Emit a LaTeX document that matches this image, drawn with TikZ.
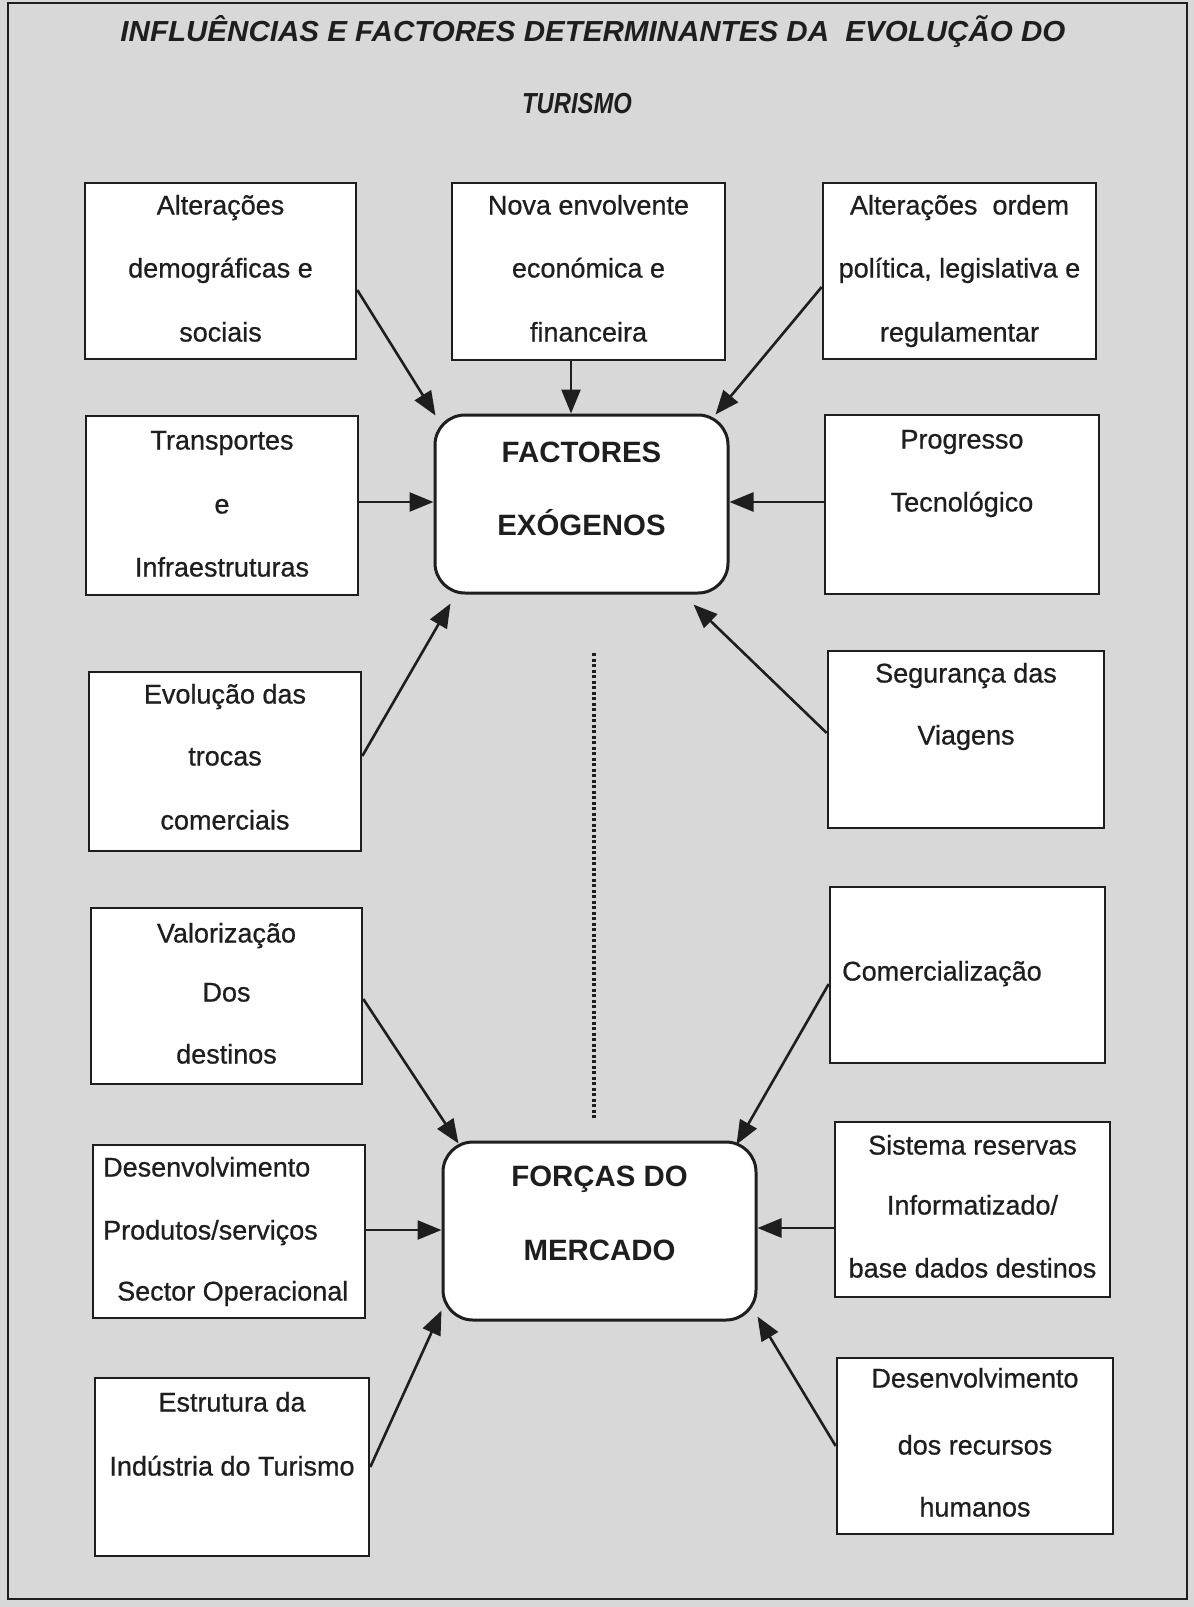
\documentclass[tikz,border=0pt]{standalone}
\usepackage{graphicx}
\usepackage{fontspec}
\setmainfont{Liberation Sans}
\newfontfamily\bodyfont{Liberation Sans}[RawFeature={embolden=0.7}]
\usetikzlibrary{arrows.meta}
\definecolor{ink}{RGB}{30,30,30}
\definecolor{paper}{RGB}{216,216,216}

\begin{document}
\begin{tikzpicture}[x=1pt,y=-1pt,
  panel/.style={draw=ink, line width=2.6pt, fill=white, inner sep=0pt},
  hub/.style={panel, rounded corners=30pt, line width=3pt},
  txt/.style={text=ink, inner sep=0pt, font=\bodyfont\fontsize{27}{30}\selectfont, text height=19pt, text depth=0pt},
  hubtxt/.style={text=ink, inner sep=0pt, font=\fontsize{29.4}{32}\selectfont\bfseries, text height=21pt, text depth=0pt},
  headtxt/.style={text=ink, inner sep=0pt, anchor=base, font=\fontsize{29}{32}\selectfont\bfseries\itshape},
  link/.style={draw=ink, line width=2.6pt, -{Triangle[length=24pt,width=19pt]}},
]
\useasboundingbox (0,0) rectangle (1194,1607);
\fill[paper] (0,0) rectangle (1194,1607);
\draw[ink, line width=2.8pt] (8,3) rectangle (1187,1599);

% heading
\node[headtxt] (title) at (593,41) {\resizebox{945pt}{\height}{INFLUÊNCIAS E FACTORES DETERMINANTES DA\ \ EVOLUÇÃO DO}};
\node[headtxt] (title2) at (577,113) {\scalebox{0.82}[1]{TURISMO}};

% central hubs
\node[hub, minimum width=293pt, minimum height=178pt] (fe) at (581.5,504) {};
\node[hubtxt] (fe1) at (581.5,452) {FACTORES};
\node[hubtxt] (fe2) at (581.5,525) {EXÓGENOS};

\node[hub, minimum width=313pt, minimum height=178pt] (fm) at (599.5,1231) {};
\node[hubtxt] (fm1) at (599.5,1176) {FORÇAS DO};
\node[hubtxt] (fm2) at (599.5,1250) {MERCADO};

% exogenous factors
\node[panel, minimum width=271pt, minimum height=176pt] (b1) at (220.5,271) {};
\node[txt] (b1a) at (220.5,205) {Alterações};
\node[txt] (b1b) at (220.5,268) {demográficas e};
\node[txt] (b1c) at (220.5,332) {sociais};

\node[panel, minimum width=273pt, minimum height=177pt] (b2) at (588.5,271.5) {};
\node[txt] (b2a) at (588.5,205) {Nova envolvente};
\node[txt] (b2b) at (588.5,268) {económica e};
\node[txt] (b2c) at (588.5,332) {financeira};

\node[panel, minimum width=273pt, minimum height=176pt] (b3) at (959.5,271) {};
\node[txt] (b3a) at (959.5,205) {Alterações\ \ ordem};
\node[txt] (b3b) at (959.5,268) {política, legislativa e};
\node[txt] (b3c) at (959.5,332) {regulamentar};

\node[panel, minimum width=272pt, minimum height=179pt] (b4) at (222,505.5) {};
\node[txt] (b4a) at (222,440) {Transportes};
\node[txt] (b4b) at (222,504) {e};
\node[txt] (b4c) at (222,567) {Infraestruturas};

\node[panel, minimum width=274pt, minimum height=179pt] (b6) at (962,504.5) {};
\node[txt] (b6a) at (962,439) {Progresso};
\node[txt] (b6b) at (962,502) {Tecnológico};

\node[panel, minimum width=272pt, minimum height=179pt] (b7) at (225,761.5) {};
\node[txt] (b7a) at (225,694) {Evolução das};
\node[txt] (b7b) at (225,756) {trocas};
\node[txt] (b7c) at (225,820) {comerciais};

\node[panel, minimum width=276pt, minimum height=177pt] (b8) at (966,739.5) {};
\node[txt] (b8a) at (966,673) {Segurança das};
\node[txt] (b8b) at (966,735) {Viagens};

% market forces
\node[panel, minimum width=271pt, minimum height=176pt] (b10) at (226.5,996) {};
\node[txt] (b10a) at (226.5,933) {Valorização};
\node[txt] (b10b) at (226.5,992) {Dos};
\node[txt] (b10c) at (226.5,1054) {destinos};

\node[panel, minimum width=275pt, minimum height=176pt] (b11) at (967.5,975) {};
\node[txt, anchor=west] (b11a) at (842,971) {Comercialização};

\node[panel, minimum width=272pt, minimum height=173pt] (b13) at (229,1231.5) {};
\node[txt, anchor=west] (b13a) at (103,1167) {Desenvolvimento};
\node[txt, anchor=west] (b13b) at (103,1230) {Produtos/serviços};
\node[txt, anchor=west] (b13c) at (117,1291) {Sector Operacional};

\node[panel, minimum width=275pt, minimum height=175pt] (b14) at (972.5,1209.5) {};
\node[txt] (b14a) at (972.5,1145) {Sistema reservas};
\node[txt] (b14b) at (972.5,1205) {Informatizado/};
\node[txt] (b14c) at (972.5,1268) {base dados destinos};

\node[panel, minimum width=274pt, minimum height=178pt] (b15) at (232,1467) {};
\node[txt] (b15a) at (232,1402) {Estrutura da};
\node[txt] (b15b) at (232,1466) {Indústria do Turismo};

\node[panel, minimum width=276pt, minimum height=176pt] (b16) at (975,1446) {};
\node[txt] (b16a) at (975,1378) {Desenvolvimento};
\node[txt] (b16b) at (975,1445) {dos recursos};
\node[txt] (b16c) at (975,1507) {humanos};

% arrows into the exogenous hub
\draw[link] ([yshift=-19pt]b1.east) -- ([shift={(2pt,-2pt)}]fe.north west);
\draw[link] ([xshift=-17.5pt]b2.south) -- ([xshift=-10.5pt]fe.north);
\draw[link] ([yshift=-16pt]b3.west) -- ([shift={(-14pt,-1pt)}]fe.north east);
\draw[link] ([yshift=3.5pt]b4.east) -- ([yshift=2pt]fe.west);
\draw[link] ([yshift=2.5pt]b6.west) -- ([yshift=2pt]fe.east);
\draw[link] ([yshift=5.5pt]b7.east) -- ([shift={(17pt,-9pt)}]fe.south west);
\draw[link] ([yshift=6.5pt]b8.west) -- ([shift={(-36pt,-10pt)}]fe.south east);

% dotted link between the hubs
\coordinate (d1) at (594,653);
\coordinate (d2) at (594,1120);
\draw[ink, line width=3.2pt, dash pattern=on 3pt off 2.5pt] (d1) -- (d2);

% arrows into the market hub
\draw[link] ([yshift=-3pt]b10.east) -- ([shift={(17pt,-3pt)}]fm.north west);
\draw[link] ([yshift=-9pt]b11.west) -- ([shift={(-21pt,-4pt)}]fm.north east);
\draw[link] ([yshift=1.5pt]b13.east) -- ([yshift=1pt]fm.west);
\draw[link] ([yshift=-18.5pt]b14.west) -- ([yshift=3pt]fm.east);
\draw[link] (b15.east) -- ([shift={(0pt,11pt)}]fm.south west);
\draw[link] (b16.west) -- ([yshift=5pt]fm.south east);
\end{tikzpicture}
\end{document}
